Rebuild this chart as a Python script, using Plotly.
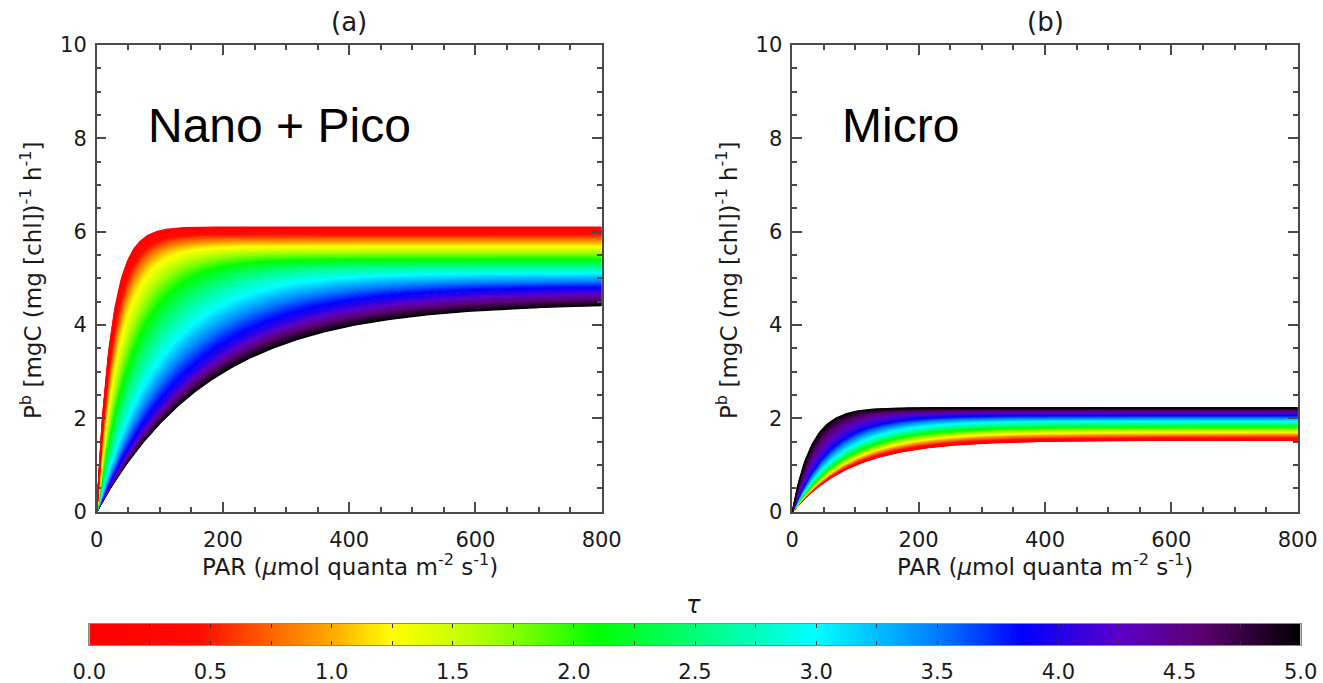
import numpy as np
import plotly.graph_objects as go
from plotly.colors import sample_colorscale

# ---------------- data ----------------
# model parameter table along tau (P = Pmax * (1 - exp(-PAR / Ik)))
TAU_NODES = [0.0, 1.0, 2.0, 3.0, 4.0, 5.0]
PMAX_NANO = [6.10, 5.77, 5.44, 5.11, 4.78, 4.47]
IK_NANO = [23.0, 32.0, 55.0, 100.0, 155.0, 182.0]
PMAX_MICRO = [1.53, 1.67, 1.81, 1.95, 2.09, 2.23]
IK_MICRO = [95.0, 90.0, 84.0, 74.0, 56.0, 30.0]

X_TICKS = [0, 200, 400, 600, 800]
Y_TICKS = [0, 2, 4, 6, 8, 10]
CB_TICKS = [0.0, 0.5, 1.0, 1.5, 2.0, 2.5, 3.0, 3.5, 4.0, 4.5, 5.0]
PANEL_TITLES = ["(a)", "(b)"]
PANEL_LABELS = ["Nano + Pico", "Micro"]
X_TITLE = "PAR (<i>μ</i>mol quanta m<sup>-2</sup> s<sup>-1</sup>)"
Y_TITLE = "P<sup>b</sup> [mgC (mg [chl])<sup>-1</sup> h<sup>-1</sup>]"

RAINBOW = [
    [0.00, "rgb(255,0,0)"],
    [0.09, "rgb(255,10,0)"],
    [0.15, "rgb(255,100,0)"],
    [0.20, "rgb(255,170,0)"],
    [0.25, "rgb(255,255,0)"],
    [0.30, "rgb(205,255,0)"],
    [0.35, "rgb(135,255,0)"],
    [0.42, "rgb(0,255,0)"],
    [0.50, "rgb(0,255,120)"],
    [0.60, "rgb(0,255,255)"],
    [0.70, "rgb(0,125,255)"],
    [0.77, "rgb(0,0,255)"],
    [0.85, "rgb(90,0,200)"],
    [0.92, "rgb(90,0,110)"],
    [1.00, "rgb(0,0,0)"],
]

W, H = 1323, 683
FONT = "DejaVu Sans"
AX_COL = "#4a4a4a"
TXT_COL = "#1a1a1a"

par = np.linspace(0, 800, 401)
tau_fine = np.linspace(0, 5, 121)


def curves(pmax_nodes, ik_nodes):
    pm = np.exp(np.interp(tau_fine, TAU_NODES, np.log(pmax_nodes)))
    ik = np.exp(np.interp(tau_fine, TAU_NODES, np.log(ik_nodes)))
    return [p * (1 - np.exp(-par / k)) for p, k in zip(pm, ik)]


def color_of(t):
    return sample_colorscale(RAINBOW, [t / 5.0])[0]


fig = go.Figure()


def add_panel(pmax_nodes, ik_nodes, xa, ya, bottom_is_high_tau):
    cs = curves(pmax_nodes, ik_nodes)
    idx = list(range(len(tau_fine)))
    if bottom_is_high_tau:
        idx = idx[::-1]
    for n, i in enumerate(idx):
        if n == 0:
            c = color_of(tau_fine[i])
            fig.add_trace(go.Scatter(x=par, y=cs[i], mode="lines", xaxis=xa, yaxis=ya,
                                     line=dict(color=c, width=1.2), hoverinfo="skip",
                                     showlegend=False))
        else:
            tm = 0.5 * (tau_fine[i] + tau_fine[idx[n - 1]])
            c = color_of(tm)
            fig.add_trace(go.Scatter(x=par, y=cs[i], mode="lines", xaxis=xa, yaxis=ya,
                                     fill="tonexty", fillcolor=c,
                                     line=dict(color=c, width=1.2), hoverinfo="skip",
                                     showlegend=False))


add_panel(PMAX_NANO, IK_NANO, "x", "y", True)
add_panel(PMAX_MICRO, IK_MICRO, "x2", "y2", False)

# colour bar drawn as a heatmap on its own axis
ncb = 500
cb_x = (np.arange(ncb) + 0.5) * 5.0 / ncb
fig.add_trace(go.Heatmap(x=cb_x, y=[0], z=[cb_x], zmin=0, zmax=5, colorscale=RAINBOW,
                         showscale=False, xaxis="x3", yaxis="y3", hoverinfo="skip"))


def px(x):
    return x / W


def py(y):
    return 1 - y / H


common = dict(showline=True, linecolor=AX_COL, linewidth=1.5, mirror="ticks",
              ticks="inside", tickcolor=AX_COL, tickwidth=1.5, ticklen=10,
              showgrid=False, zeroline=False, automargin=False,
              tickfont=dict(family=FONT, size=21, color=TXT_COL))

xdom_a = [px(96.7), px(601.7)]
xdom_b = [px(792.3), px(1297.7)]
ydom = [py(511.7), py(45)]

xcfg = dict(common, range=[0, 800], tickvals=X_TICKS, ticklabelstandoff=8,
            minor=dict(dtick=50, ticks="inside", ticklen=5, tickwidth=1.5, tickcolor=AX_COL))
ycfg = dict(common, range=[0, 10], tickvals=Y_TICKS, ticklabelstandoff=4,
            minor=dict(dtick=0.5, ticks="inside", ticklen=5, tickwidth=1.5, tickcolor=AX_COL))

fig.update_layout(
    template="none",
    width=W, height=H, margin=dict(l=0, r=0, t=0, b=0, pad=0), autosize=False,
    paper_bgcolor="white", plot_bgcolor="white", showlegend=False,
    xaxis=dict(xcfg, domain=xdom_a, anchor="y"),
    yaxis=dict(ycfg, domain=ydom, anchor="x"),
    xaxis2=dict(xcfg, domain=xdom_b, anchor="y2"),
    yaxis2=dict(ycfg, domain=ydom, anchor="x2"),
    xaxis3=dict(domain=[px(89.3), px(1300.7)], anchor="y3", range=[0, 5],
                tickvals=CB_TICKS, tickformat=".1f", ticks="inside", ticklen=4,
                tickwidth=1, tickcolor="#333", showline=True, linecolor="#888",
                linewidth=1, mirror="ticks", showgrid=False, zeroline=False,
                ticklabelstandoff=8, automargin=False,
                minor=dict(dtick=0.25, ticks="inside", ticklen=4, tickwidth=1, tickcolor="#333"),
                tickfont=dict(family=FONT, size=21, color=TXT_COL)),
    yaxis3=dict(domain=[py(645), py(624)], anchor="x3", range=[-0.5, 0.5],
                showticklabels=False, ticks="", showline=True, linecolor="#888",
                linewidth=1, mirror=True, showgrid=False, zeroline=False, automargin=False),
)


def note(text, x, y, size, family=FONT, color=TXT_COL, angle=0):
    return dict(text=text, x=px(x), y=py(y), xref="paper", yref="paper",
                xanchor="center", yanchor="middle", textangle=angle, showarrow=False,
                font=dict(family=family, size=size, color=color))


ann = []
for t, xc in zip(PANEL_TITLES, [349, 1045]):
    ann.append(note(t, xc, 22, 26))
for xc in [350, 1045]:
    ann.append(note(X_TITLE, xc, 565, 23))
for xc in [31, 727]:
    ann.append(note(Y_TITLE, xc, 280, 23, angle=-90))
for t, xc in zip(PANEL_LABELS, [279, 900]):
    ann.append(note(t, xc, 126, 48, family="Liberation Sans", color="black"))
ann.append(note("<i>τ</i>", 693, 605, 24))
fig.update_layout(annotations=ann)

fig.write_html("out.html", config={"displayModeBar": False},
               post_script="document.body.style.margin='0px';")
